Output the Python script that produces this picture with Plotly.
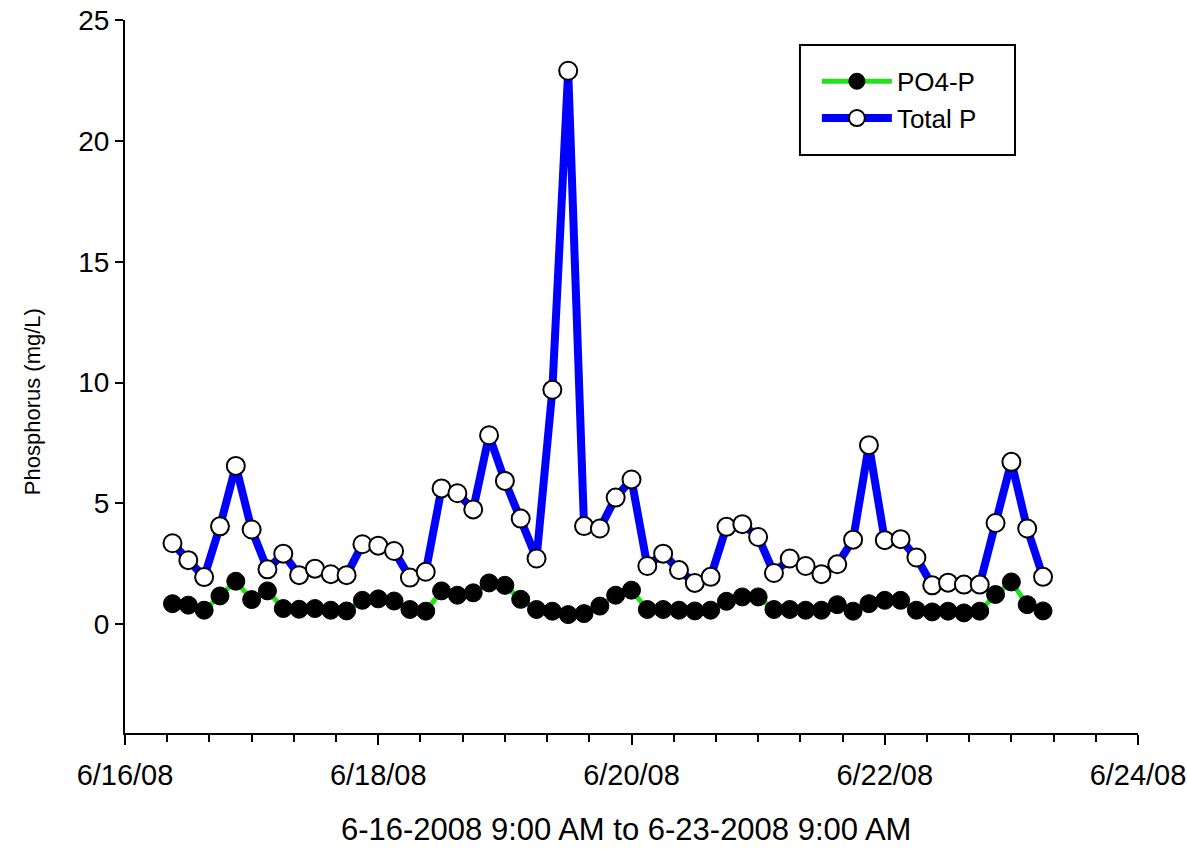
import pandas as pd
import plotly.graph_objects as go

# Sampling times: every 3 hours starting 6/16/2008 9:00 AM
start_time = "2008-06-16 09:00"
n_samples = 56
times = pd.date_range(start_time, periods=n_samples, freq="3h")

total_p = [3.35, 2.65, 1.95, 4.05, 6.55, 3.92, 2.27, 2.92, 2.03, 2.30,
           2.07, 2.03, 3.31, 3.25, 3.03, 1.93, 2.17, 5.62, 5.42, 4.75,
           7.82, 5.93, 4.37, 2.72, 9.70, 22.9, 4.06, 3.96, 5.24, 5.99,
           2.41, 2.92, 2.24, 1.71, 1.96, 4.03, 4.14, 3.61, 2.12, 2.72,
           2.41, 2.07, 2.48, 3.50, 7.41, 3.48, 3.52, 2.76, 1.61, 1.72,
           1.64, 1.64, 4.19, 6.72, 3.96, 1.96]

po4_p = [0.85, 0.79, 0.58, 1.17, 1.78, 1.02, 1.38, 0.65, 0.62, 0.65,
         0.58, 0.55, 0.99, 1.05, 0.96, 0.61, 0.54, 1.38, 1.20, 1.30,
         1.71, 1.61, 1.03, 0.61, 0.54, 0.40, 0.44, 0.75, 1.20, 1.41,
         0.61, 0.61, 0.58, 0.55, 0.58, 0.95, 1.13, 1.13, 0.61, 0.61,
         0.58, 0.58, 0.81, 0.54, 0.85, 0.99, 0.99, 0.58, 0.51, 0.54,
         0.47, 0.54, 1.23, 1.75, 0.81, 0.55]

x_tick_vals = ["2008-06-16", "2008-06-18", "2008-06-20", "2008-06-22", "2008-06-24"]
x_tick_text = ["6/16/08", "6/18/08", "6/20/08", "6/22/08", "6/24/08"]
y_tick_vals = [0, 5, 10, 15, 20, 25]

x_title = "6-16-2008 9:00 AM to 6-23-2008 9:00 AM"
y_title = "Phosphorus (mg/L)"

FONT = "Arial, Liberation Sans, sans-serif"

fig = go.Figure()
fig.add_trace(go.Scatter(
    x=times, y=po4_p, name="PO4-P", mode="lines+markers",
    line=dict(color="#22e01e", width=5),
    marker=dict(color="black", size=18, line=dict(color="black", width=1)),
))
fig.add_trace(go.Scatter(
    x=times, y=total_p, name="Total P", mode="lines+markers",
    line=dict(color="#0000ff", width=8),
    marker=dict(color="white", size=18, line=dict(color="black", width=2)),
))

# legend frame (drawn as a shape for extra padding like the original)
fig.add_shape(type="rect", xref="paper", yref="paper",
              x0=0.6663, x1=0.8786, y0=0.8107, y1=0.965,
              line=dict(color="black", width=2), fillcolor="white", layer="below")

fig.add_annotation(text=x_title, xref="paper", yref="paper", x=0.495, y=0,
                   xanchor="center", yanchor="middle", yshift=-96,
                   showarrow=False, font=dict(size=31, family=FONT, color="black"))
fig.add_annotation(text=y_title, xref="paper", yref="paper", x=0, y=0.464,
                   xanchor="center", yanchor="middle", xshift=-93, textangle=-90,
                   showarrow=False, font=dict(size=22, family=FONT, color="black"))

fig.update_layout(
    width=1187, height=849,
    margin=dict(l=125, r=49, t=20, b=116, autoexpand=False),
    paper_bgcolor="white", plot_bgcolor="white",
    font=dict(family=FONT, color="black", size=20),
    showlegend=True,
    legend=dict(
        x=0.683, y=0.888, xanchor="left", yanchor="middle",
        borderwidth=0, bgcolor="rgba(0,0,0,0)",
        font=dict(size=26, family=FONT), itemwidth=70,
        tracegroupgap=0,
    ),
    xaxis=dict(
        type="date",
        range=["2008-06-16", "2008-06-24"],
        tickvals=x_tick_vals, ticktext=x_tick_text,
        ticks="outside", ticklen=10, tickwidth=2, tickcolor="black",
        showline=True, linecolor="black", linewidth=2,
        showgrid=False, zeroline=False, automargin=False,
        tickfont=dict(size=29, family=FONT),
        ticklabelstandoff=5, ticklabeloverflow="allow",
        minor=dict(dtick=8 * 3600 * 1000, tick0="2008-06-16",
                   ticks="outside", ticklen=7, tickwidth=2, tickcolor="black",
                   showgrid=False),
    ),
    yaxis=dict(
        range=[-4.5, 25],
        tickvals=y_tick_vals,
        ticks="outside", ticklen=8, tickwidth=2, tickcolor="black",
        showline=True, linecolor="black", linewidth=2,
        showgrid=False, zeroline=False, automargin=False,
        tickfont=dict(size=28, family=FONT),
        ticklabelstandoff=0,
    ),
)

fig.write_html("out.html")
